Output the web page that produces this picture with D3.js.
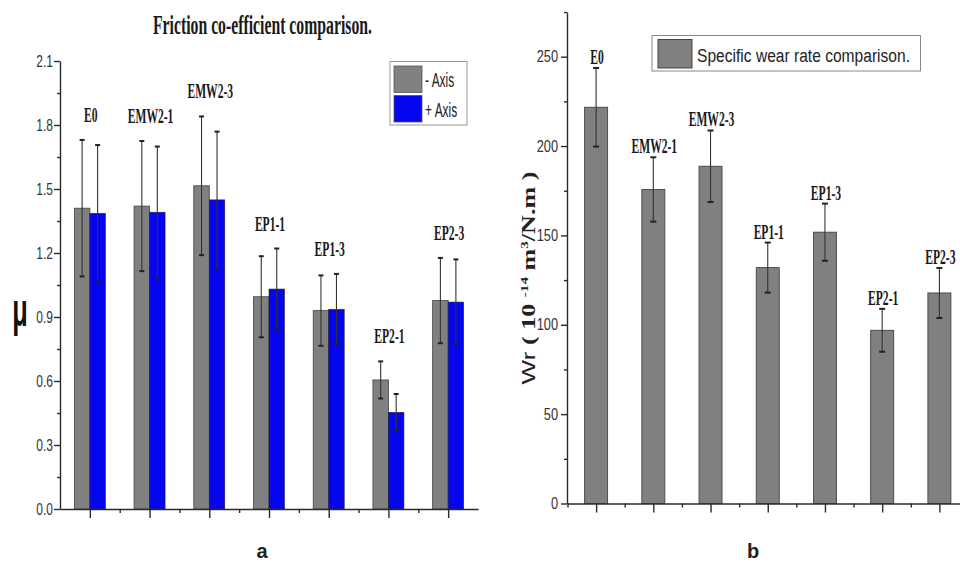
<!DOCTYPE html>
<html><head><meta charset="utf-8">
<script src="https://cdn.jsdelivr.net/npm/d3@7"></script>
<style>body{margin:0;background:#fff}svg{display:block}</style>
</head><body>
<svg id="c" width="960" height="563"></svg>
<script>
const categories = ["E0","EMW2-1","EMW2-3","EP1-1","EP1-3","EP2-1","EP2-3"];
const muMinus    = [1.41, 1.42, 1.515, 0.995, 0.93, 0.605, 0.977];
const muMinusErr = [0.32, 0.305, 0.325, 0.19, 0.165, 0.087, 0.2];
const muPlus     = [1.386, 1.391, 1.449, 1.031, 0.936, 0.453, 0.97];
const muPlusErr  = [0.32, 0.308, 0.32, 0.19, 0.166, 0.086, 0.2];
const wear       = [221.7, 175.7, 188.7, 132, 151.8, 96.9, 117.8];
const wearErr    = [22, 18, 20, 14, 16, 12, 14];
const muTicks    = [0, 0.3, 0.6, 0.9, 1.2, 1.5, 1.8, 2.1];
const wearTicks  = [0, 50, 100, 150, 200, 250];
const legendA    = ["- Axis", "+ Axis"];

const svg = d3.select("#c");
const GRAY = "#808080", BLUE = "#0505ee", AX = "#2a2a2a";

function ctext(g, x, y, str, opts) {
  const t = g.append("text")
    .attr("transform", `translate(${x},${y}) scale(${opts.sx||1},1)`)
    .attr("text-anchor", opts.anchor || "middle")
    .attr("font-family", opts.family || "'Liberation Serif', serif")
    .attr("font-weight", opts.weight || "bold")
    .attr("font-size", opts.size || 16)
    .attr("fill", opts.fill || "#1a1a1a")
    .text(str);
  return t;
}

// ---------- LEFT CHART ----------
const L = svg.append("g");
const xL = d3.scaleLinear().domain([0.5, 7.5]).range([60, 478]);
const yL = d3.scaleLinear().domain([0, 2.1]).range([509, 61]);
const bwL = 15.5;

categories.forEach((c, i) => {
  const cx = xL(i + 1);
  L.append("rect").attr("x", cx - bwL).attr("y", yL(muMinus[i]))
    .attr("width", bwL).attr("height", yL(0) - yL(muMinus[i]))
    .attr("fill", GRAY).attr("stroke", "#444").attr("stroke-width", 0.8);
  L.append("rect").attr("x", cx).attr("y", yL(muPlus[i]))
    .attr("width", bwL).attr("height", yL(0) - yL(muPlus[i]))
    .attr("fill", BLUE).attr("stroke", "#223").attr("stroke-width", 0.6);
});
function errbar(g, x, yTop, yBot, cap) {
  g.append("line").attr("x1", x).attr("x2", x).attr("y1", yTop).attr("y2", yBot)
    .attr("stroke", "#333").attr("stroke-width", 1.1);
  [yTop, yBot].forEach(yy => g.append("line").attr("x1", x - cap/2).attr("x2", x + cap/2)
    .attr("y1", yy).attr("y2", yy).attr("stroke", "#222").attr("stroke-width", 2));
}
categories.forEach((c, i) => {
  const cx = xL(i + 1);
  errbar(L, cx - bwL/2, yL(muMinus[i] + muMinusErr[i]), yL(muMinus[i] - muMinusErr[i]), 5);
  errbar(L, cx + bwL/2, yL(muPlus[i] + muPlusErr[i]), yL(muPlus[i] - muPlusErr[i]), 5);
  const top = Math.min(yL(muMinus[i] + muMinusErr[i]), yL(muPlus[i] + muPlusErr[i]));
  ctext(L, cx + 1, top - 18, c, {size: 20, sx: 0.58});
});

const yAxL = d3.axisLeft(yL).tickValues(muTicks).tickFormat(d3.format(".1f")).tickSize(6).tickSizeOuter(0);
const gyL = L.append("g").attr("transform", "translate(60,0)").call(yAxL);
L.append("g").attr("transform", "translate(60,0)")
  .call(d3.axisLeft(yL).tickValues(d3.range(0.15, 2.1, 0.3)).tickFormat("").tickSize(3).tickSizeOuter(0))
  .select(".domain").remove();
const xAxL = d3.axisBottom(xL).tickValues(d3.range(1, 8)).tickFormat("").tickSize(9).tickSizeOuter(0);
L.append("g").attr("transform", "translate(0,509)").call(xAxL);
L.append("g").attr("transform", "translate(0,509)")
  .call(d3.axisBottom(xL).tickValues(d3.range(1.5, 7.5, 1)).tickFormat("").tickSize(4).tickSizeOuter(0))
  .select(".domain").remove();
L.selectAll(".domain, .tick line").attr("stroke", AX).attr("stroke-width", 1.4);
gyL.selectAll(".tick text").remove();
muTicks.forEach(v => ctext(L, 53, yL(v) + 5.5, d3.format(".1f")(v),
  {family: "'Liberation Sans', Arial, sans-serif", weight: "normal", size: 16, sx: 0.75, anchor: "end", fill: "#333"}));

L.append("text").attr("x", 153).attr("y", 34)
  .attr("textLength", 219).attr("lengthAdjust", "spacingAndGlyphs")
  .attr("font-family", "'Liberation Serif', serif").attr("font-weight", "bold")
  .attr("font-size", 27).attr("fill", "#1a1a1a").text("Friction co-efficient comparison.");

ctext(L, 20, 326, "μ", {family: "'Liberation Sans', Arial, sans-serif", weight: "bold", size: 46, sx: 0.55, fill: "#111"});

L.append("rect").attr("x", 390).attr("y", 61.5).attr("width", 77).attr("height", 63.5)
  .attr("fill", "#fff").attr("stroke", "#999").attr("stroke-width", 1);
[GRAY, BLUE].forEach((col, k) => {
  L.append("rect").attr("x", 394).attr("y", 66 + k * 29.5).attr("width", 28).attr("height", 26.5)
    .attr("fill", col).attr("stroke", "#555").attr("stroke-width", 0.8);
  ctext(L, 425, 87 + k * 29.5, legendA[k],
    {family: "'Liberation Sans', Arial, sans-serif", weight: "normal", size: 21, sx: 0.57, anchor: "start", fill: "#222"});
});

ctext(L, 262, 558, "a", {family: "'Liberation Sans', Arial, sans-serif", weight: "bold", size: 20, fill: "#222"});

// ---------- RIGHT CHART ----------
const R = svg.append("g");
const xR = d3.scaleLinear().domain([0.5, 7.5]).range([567.5, 968]);
const yR = d3.scaleLinear().domain([0, 275]).range([503.5, 12]);
const bwR = 23;
categories.forEach((c, i) => {
  const cx = xR(i + 1);
  R.append("rect").attr("x", cx - bwR/2).attr("y", yR(wear[i]))
    .attr("width", bwR).attr("height", yR(0) - yR(wear[i]))
    .attr("fill", GRAY).attr("stroke", "#444").attr("stroke-width", 0.9);
  errbar(R, cx, yR(wear[i] + wearErr[i]), yR(wear[i] - wearErr[i]), 6);
  ctext(R, cx + 1, yR(wear[i] + wearErr[i]) - 4, c, {size: 20, sx: 0.58});
});
const gyR = R.append("g").attr("transform", "translate(567,0)")
  .call(d3.axisLeft(yR).tickValues(wearTicks).tickSize(6).tickSizeOuter(0));
R.append("g").attr("transform", "translate(567,0)")
  .call(d3.axisLeft(yR).tickValues(d3.range(25, 276, 50)).tickFormat("").tickSize(3).tickSizeOuter(0))
  .select(".domain").remove();
R.append("g").attr("transform", "translate(0,503.5)")
  .call(d3.axisBottom(xR).tickValues(d3.range(1, 8)).tickFormat("").tickSize(9).tickSizeOuter(0));
R.append("g").attr("transform", "translate(0,503.5)")
  .call(d3.axisBottom(xR).tickValues(d3.range(0.5, 7.5, 1)).tickFormat("").tickSize(4).tickSizeOuter(0))
  .select(".domain").remove();
R.selectAll(".domain, .tick line").attr("stroke", AX).attr("stroke-width", 1.4);
gyR.selectAll(".tick text").remove();
wearTicks.forEach(v => ctext(R, 558, yR(v) + 5.5, String(v),
  {family: "'Liberation Sans', Arial, sans-serif", weight: "normal", size: 16, sx: 0.8, anchor: "end", fill: "#333"}));

R.append("rect").attr("x", 652).attr("y", 35.5).attr("width", 268.5).attr("height", 35.5)
  .attr("fill", "#fff").attr("stroke", "#888").attr("stroke-width", 1);
R.append("rect").attr("x", 658).attr("y", 39.5).attr("width", 34).attr("height", 28.5)
  .attr("fill", GRAY).attr("stroke", "#444").attr("stroke-width", 1);
R.append("text").attr("x", 697).attr("y", 62).attr("textLength", 213).attr("lengthAdjust", "spacingAndGlyphs")
  .attr("font-family", "'Liberation Sans', Arial, sans-serif").attr("font-size", 18).attr("fill", "#222")
  .text("Specific wear rate comparison.");

const yl = R.append("text").attr("transform", "translate(535,278) rotate(-90)")
  .attr("text-anchor", "middle").attr("textLength", 213).attr("lengthAdjust", "spacingAndGlyphs")
  .attr("fill", "#222").attr("font-size", 19);
yl.append("tspan").attr("font-family", "'Liberation Sans', Arial, sans-serif").text("Wr");
yl.append("tspan").attr("font-family", "'Liberation Serif', serif").attr("font-weight", "bold").text(" ( 10 ");
yl.append("tspan").attr("font-family", "'Liberation Serif', serif").attr("font-weight", "bold")
  .attr("font-size", 11).attr("dy", -7).text("-14");
yl.append("tspan").attr("font-family", "'Liberation Serif', serif").attr("font-weight", "bold")
  .attr("dy", 7).text(" m");
yl.append("tspan").attr("font-family", "'Liberation Serif', serif").attr("font-weight", "bold")
  .attr("font-size", 11).attr("dy", -7).text("3");
yl.append("tspan").attr("font-family", "'Liberation Serif', serif").attr("font-weight", "bold")
  .attr("dy", 7).text("/N.m )");

ctext(R, 753, 558, "b", {family: "'Liberation Sans', Arial, sans-serif", weight: "bold", size: 20, fill: "#222"});
</script>
</body></html>
